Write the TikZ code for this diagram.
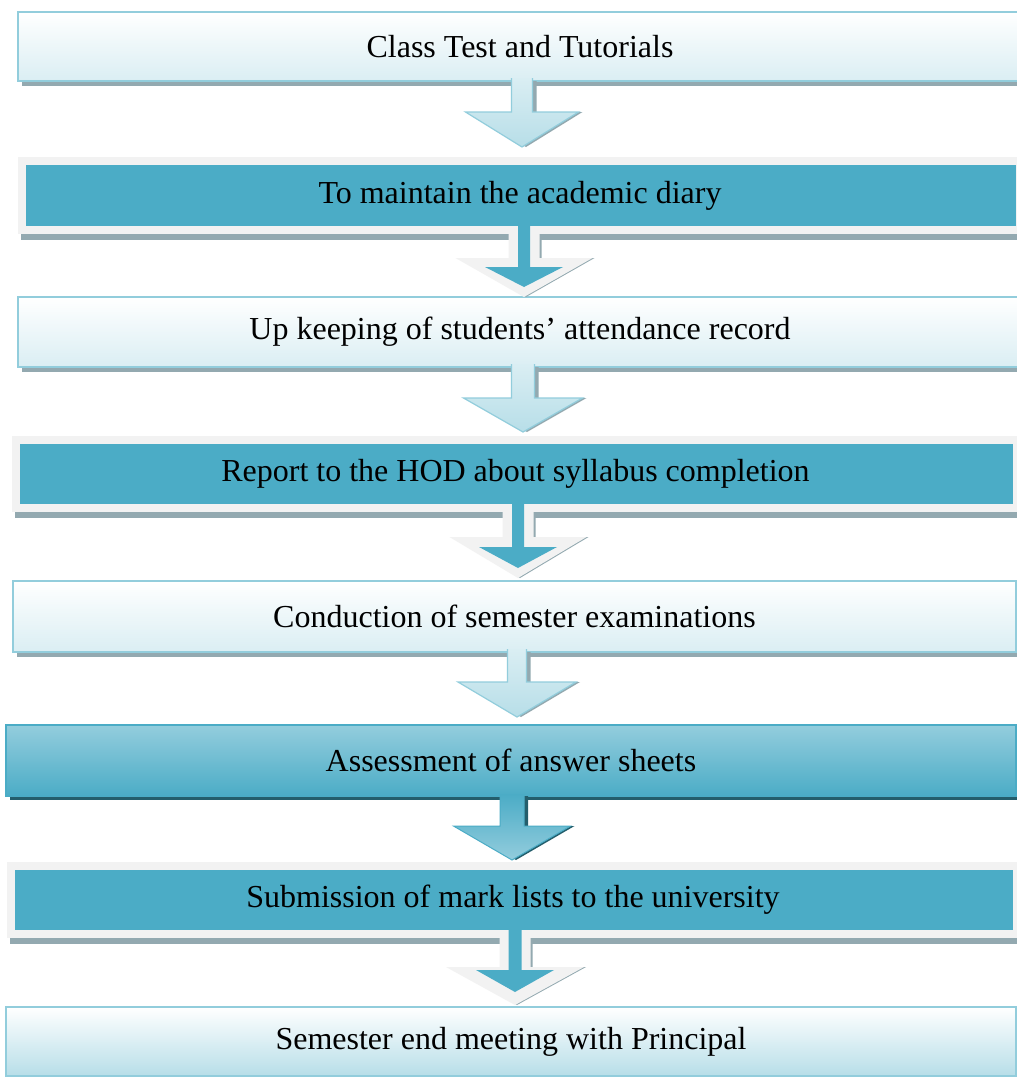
\documentclass[tikz,border=0pt]{standalone}
\usepackage{fontspec}
\setmainfont{Liberation Serif}
\usetikzlibrary{calc,shadows}
\definecolor{lborder}{HTML}{92CDDC}
\definecolor{lbot}{HTML}{DAEEF3}
\definecolor{lbot2}{HTML}{B7DEE8}
\definecolor{tealc}{HTML}{4BACC6}
\definecolor{tealtop}{HTML}{93CDDD}
\definecolor{framegray}{HTML}{F2F2F2}
\definecolor{shadowgray}{HTML}{93A9B0}
\definecolor{darkshade}{HTML}{245E6C}
% #1 style, #2 from node, #3 to node, #4 centre x, #5 shaft half width,
% #6 head half width, #7 head length, #8 gap above next box, #9 start offset into box
\newcommand\arrshape[9]{%
  \path[#1] let \p1=(#2.south), \p2=(#3.north),
      \n1={\y2+#8pt}, \n2={\y2+#8pt+#7pt} in
    ({(#4-#5)*1pt},{\y1+#9pt}) -- ({(#4-#5)*1pt},{\n2*1pt}) --
    ({(#4-#6)*1pt},{\n2*1pt}) -- ({#4*1pt},{\n1*1pt}) --
    ({(#4+#6)*1pt},{\n2*1pt}) -- ({(#4+#5)*1pt},{\n2*1pt}) --
    ({(#4+#5)*1pt},{\y1+#9pt});}
\begin{document}
\begin{tikzpicture}[x=1pt,y=-1pt,
  flowbox/.style={anchor=north west, inner sep=0pt, outer sep=0pt,
    font=\fontsize{32}{38}\selectfont, text=black},
  lightbox/.style={flowbox, draw=lborder, line width=2.5pt,
    top color=white, bottom color=#1,
    drop shadow={fill=shadowgray, opacity=1, shadow xshift=4pt, shadow yshift=-5pt}},
  lightbox/.default=lbot,
  framedbox/.style={flowbox, fill=framegray,
    drop shadow={fill=shadowgray, opacity=1, shadow xshift=3pt, shadow yshift=-6pt},
    path picture={\fill[tealc] ([shift={(8pt,-8pt)}]path picture bounding box.north west)
      rectangle ([shift={(-6pt,8pt)}]path picture bounding box.south east);}},
  gradbox/.style={flowbox, draw=tealc, line width=1.5pt,
    top color=tealtop, bottom color=tealc,
    drop shadow={fill=darkshade, opacity=1, shadow xshift=4pt, shadow yshift=-4pt}},
  arrshadow/.style={fill=shadowgray, xshift=4pt, yshift=-4pt},
  framearrshadow/.style={fill=shadowgray, xshift=2pt, yshift=-6pt},
  lightarr/.style={top color=lbot, bottom color=lbot2, draw=lborder, line width=1.2pt},
  framearr/.style={fill=framegray},
  innerarr/.style={fill=tealc},
  gradarr/.style={top color=tealc, bottom color=tealtop, draw=tealc, line width=1pt}
]
\useasboundingbox (0,0) rectangle (1017,1077);
\clip (0,0) rectangle (1017,1077);
\fill[white] (0,0) rectangle (1017,1077);

% boxes
\node[lightbox, minimum width=1004pt, minimum height=69pt] (b1) at (18,12) {Class Test and Tutorials};
\node[framedbox, minimum width=1004pt, minimum height=77pt] (b2) at (18,157) {To maintain the academic diary};
\node[lightbox, minimum width=1004pt, minimum height=70pt] (b3) at (18,297) {Up keeping of students’ attendance record};
\node[framedbox, minimum width=1007pt, minimum height=76pt] (b4) at (12,436) {Report to the HOD about syllabus completion};
\node[lightbox, minimum width=1003pt, minimum height=71pt] (b5) at (13,581) {Conduction of semester examinations};
\node[gradbox, minimum width=1010pt, minimum height=71pt] (b6) at (6,725) {Assessment of answer sheets};
\node[framedbox, minimum width=1012pt, minimum height=76pt] (b7) at (7,862) {Submission of mark lists to the university};
\node[lightbox=lbot2, minimum width=1010pt, minimum height=69pt] (b8) at (6,1007) {Semester end meeting with Principal};

% arrow 1
\arrshape{arrshadow}{b1}{b2}{522}{10.5}{56.5}{35}{10}{0}
\arrshape{lightarr}{b1}{b2}{522}{10.5}{56.5}{35}{10}{3}
% arrow 2
\arrshape{framearrshadow}{b2}{b3}{524}{15.5}{68.5}{39}{0}{0}
\arrshape{framearr}{b2}{b3}{524}{15.5}{68.5}{39}{0}{2}
\arrshape{innerarr}{b2}{b3}{524}{6}{39}{20}{10}{10}
% arrow 3
\arrshape{arrshadow}{b3}{b4}{523}{11.5}{59.5}{34}{4}{0}
\arrshape{lightarr}{b3}{b4}{523}{11.5}{59.5}{34}{4}{3}
% arrow 4
\arrshape{framearrshadow}{b4}{b5}{518}{15.5}{68.5}{41}{3}{0}
\arrshape{framearr}{b4}{b5}{518}{15.5}{68.5}{41}{3}{2}
\arrshape{innerarr}{b4}{b5}{518}{6}{39}{21}{13}{10}
% arrow 5
\arrshape{arrshadow}{b5}{b6}{517}{9.5}{59}{35}{8}{0}
\arrshape{lightarr}{b5}{b6}{517}{9.5}{59}{35}{8}{3}
% arrow 6
\arrshape{fill=darkshade, xshift=4pt, yshift=-4pt}{b6}{b7}{512}{12}{58.5}{34}{2}{0}
\arrshape{gradarr}{b6}{b7}{512}{12}{58.5}{34}{2}{2}
% arrow 7
\arrshape{framearrshadow}{b7}{b8}{515}{15.5}{69}{38}{2}{0}
\arrshape{framearr}{b7}{b8}{515}{15.5}{69}{38}{2}{2}
\arrshape{innerarr}{b7}{b8}{515}{6.5}{39}{22}{15}{10}
\end{tikzpicture}
\end{document}
